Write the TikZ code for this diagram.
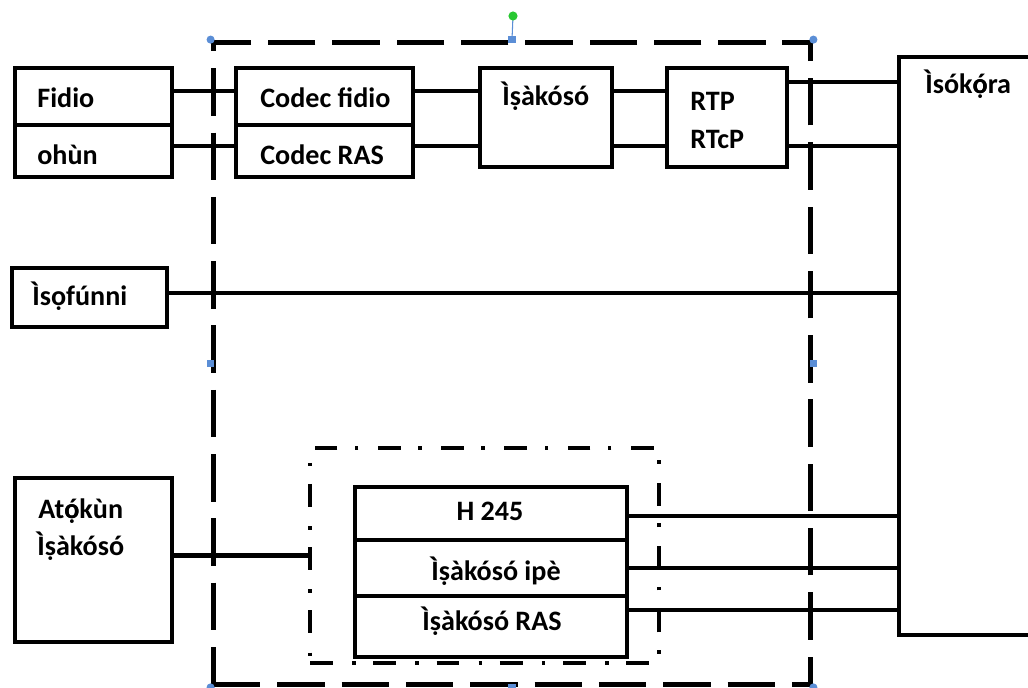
\documentclass[tikz,border=0pt]{standalone}
\usepackage{fontspec}
\setmainfont{Carlito}
\usepackage{tikz}
\usetikzlibrary{positioning}

\definecolor{handleblue}{RGB}{91,142,214}
\definecolor{handlegreen}{RGB}{40,200,50}

% o with dot below and acute
\newcommand{\oda}{\rlap{ọ}ó}

\tikzset{
  box/.style={draw=black, line width=2.6pt, inner sep=0pt},
  wire/.style={black, line width=2.3pt},
  txt/.style={font=\bfseries\fontsize{16}{19}\selectfont, inner sep=0pt, anchor=base west},
  gwbox/.style={draw=black, line width=2.8pt, inner sep=0pt, dash pattern=on 27pt off 9.6pt},
  grpbox/.style={draw=black, line width=2.6pt, inner sep=0pt, dash pattern=on 13pt off 11pt on 2pt off 10pt},
}

\begin{document}
\begin{tikzpicture}[x=0.02cm, y=-0.02cm]
  \useasboundingbox (0,0) rectangle (1028,687);

  % gateway frame
  \node[gwbox, minimum width=11.96cm, minimum height=12.86cm] (gw) at (512,363.5) {};

  % boxes
  \node[box, minimum width=3.14cm, minimum height=1.14cm] (fidio) at (93.5,96.5) {};
  \node[box, minimum width=3.14cm, minimum height=1.04cm] (ohun) at (93.5,151) {};
  \node[box, minimum width=3.54cm, minimum height=1.14cm] (codecv) at (324.5,96.5) {};
  \node[box, minimum width=3.54cm, minimum height=1.04cm] (codeca) at (324.5,151) {};
  \node[box, minimum width=2.64cm, minimum height=1.98cm] (ctrl) at (546,117.5) {};
  \node[box, minimum width=2.40cm, minimum height=1.98cm] (rtp) at (727,117.5) {};
  \node[box, minimum width=3.22cm, minimum height=11.56cm] (net) at (979.5,346) {};
  \node[box, minimum width=3.10cm, minimum height=1.18cm] (info) at (89.5,297.5) {};
  \node[box, minimum width=3.14cm, minimum height=3.28cm] (ui) at (93.5,560) {};

  % signalling stack
  \node[grpbox, minimum width=6.98cm, minimum height=4.30cm] (grp) at (484.5,555.5) {};
  \node[box, minimum width=5.44cm, minimum height=1.06cm] (h245) at (491,513.5) {};
  \node[box, minimum width=5.44cm, minimum height=1.12cm] (callsig) at (491,568) {};
  \node[box, minimum width=5.44cm, minimum height=1.22cm] (rassig) at (491,626.5) {};

  % labels
  \node[txt] (lfidio) at (37,107) {Fidio};
  \node[txt] (lohun) at (37,164) {ohùn};
  \node[txt] (lcodecv) at (260,107) {Codec fidio};
  \node[txt] (lcodeca) at (260,164) {Codec RAS};
  \node[txt] (lctrl) at (502,105) {Ìṣàkósó};
  \node[txt] (lrtp) at (690,110) {RTP};
  \node[txt] (lrtcp) at (690,148) {RTcP};
  \node[txt] (lnet) at (925,93) {Ìsók\oda ra};
  \node[txt] (linfo) at (32,305) {Ìsọfúnni};
  \node[txt] (lui) at (38,518) {At\oda kùn};
  \node[txt] (lui2) at (37,555) {Ìṣàkósó};
  \node[txt, anchor=base] (lh245) at (490,520) {H 245};
  \node[txt, anchor=base] (lcall) at (496,580) {Ìṣàkósó ipè};
  \node[txt, anchor=base] (lras) at (492,630) {Ìṣàkósó RAS};

  % connections
  \draw[wire] (fidio.east |- 0,91) -- (codecv.west |- 0,91);
  \draw[wire] (ohun.east |- 0,146) -- (codeca.west |- 0,146);
  \draw[wire] (codecv.east |- 0,91) -- (ctrl.west |- 0,91);
  \draw[wire] (codeca.east |- 0,146) -- (ctrl.west |- 0,146);
  \draw[wire] (ctrl.east |- 0,91) -- (rtp.west |- 0,91);
  \draw[wire] (ctrl.east |- 0,146) -- (rtp.west |- 0,146);
  \draw[wire] (rtp.east |- 0,82) -- (net.west |- 0,82);
  \draw[wire] (rtp.east |- 0,146) -- (net.west |- 0,146);
  \draw[wire] (info.east |- 0,293) -- (net.west |- 0,293);
  \draw[wire] (ui.east |- grp.west) -- (grp.west);
  \draw[wire] (h245.east |- 0,516) -- (net.west |- 0,516);
  \draw[wire] (callsig.east |- 0,568) -- (net.west |- 0,568);
  \draw[wire] (rassig.east |- 0,610) -- (net.west |- 0,610);

  % selection handles
  \coordinate (rot) at (513,16);
  \draw[handleblue, line width=0.6pt] (gw.north) -- (rot);
  \fill[handlegreen] (rot) circle (2.6pt);
  \foreach \c in {north west, north east, south west, south east}
    \fill[handleblue] (gw.\c) circle (2.3pt);
  \foreach \c in {north, south, west, east}
    \fill[handleblue] ([xshift=-2.2pt, yshift=-2.2pt]gw.\c) rectangle ++(4.4pt,4.4pt);
\end{tikzpicture}
\end{document}
